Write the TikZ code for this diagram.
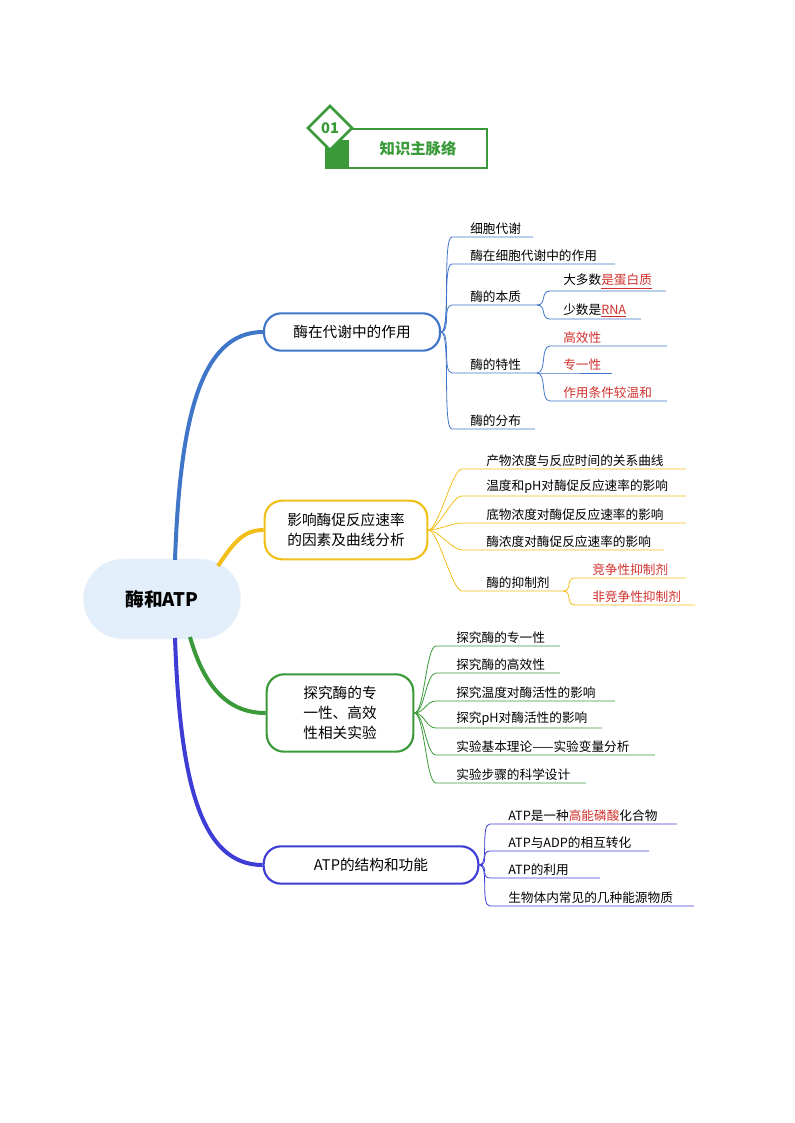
\documentclass[tikz,border=0pt]{standalone}
\usepackage{fontspec}
\setmainfont{Noto Sans CJK SC}
\usetikzlibrary{positioning}
\definecolor{hdgreen}{HTML}{3A9A3A}
\definecolor{bblue}{HTML}{3F76C8}
\definecolor{byellow}{HTML}{F2BE1A}
\definecolor{bgreen}{HTML}{3A9A3A}
\definecolor{bviolet}{HTML}{3D3DD6}
\definecolor{rootfill}{HTML}{E3EEFB}
\definecolor{redtxt}{HTML}{D0312D}
\tikzset{
  branch/.style={draw=#1, line width=1.6pt, rounded corners=13pt, fill=white, align=center, font=\fontsize{11}{15}\selectfont, inner sep=0pt},
  lf/.style={anchor=south west, inner sep=1.5pt, font=\fontsize{9.5}{11}\selectfont},
  link/.style={line width=0.6pt, #1}
}
% \leaf{name}{colour}{from}{line x}{text x}{line y}{end x}{text}
\newcommand{\leaf}[8]{%
  \coordinate (#1s) at (#4,#6);
  \coordinate (#1e) at (#7,#6);
  \draw[link=#2] (#3) .. controls +(10,0) and +(-10,0) .. (#1s) -- (#1e);
  \node[lf] (#1) at (#5,#6) {#8};
}
\newcommand{\rd}[1]{\textcolor{redtxt}{#1}}
\begin{document}
\begin{tikzpicture}[x=0.75pt,y=-0.75pt]
\useasboundingbox (0,0) rectangle (794,1123);
% header
\draw[hdgreen, line width=1.5pt] (326,129) rectangle (487,168);
\fill[hdgreen] (326,140) rectangle (349,168);
\node[font=\fontsize{11.5}{13}\selectfont\bfseries, text=hdgreen] (title) at (418,149) {知识主脉络};
\draw[hdgreen, line width=2pt, fill=white] (330,106) -- (352,128) -- (330,150) -- (308,128) -- cycle;
\node[font=\fontsize{11}{13}\selectfont\bfseries, text=hdgreen] (num) at (330,128) {01};
% root and branches
\node[fill=rootfill, draw=rootfill!60!white, rounded corners=30pt, minimum width=118pt, minimum height=60pt, font=\fontsize{14}{16}\selectfont\bfseries] (root) at (162,599) {酶和ATP};
\node[branch=bblue, minimum width=132pt, minimum height=28pt] (b1) at (352,332) {酶在代谢中的作用};
\node[branch=byellow, minimum width=122pt, minimum height=44pt] (b2) at (346,530) {影响酶促反应速率\\的因素及曲线分析};
\node[branch=bgreen, minimum width=110pt, minimum height=58pt] (b3) at (340,713) {探究酶的专\\一性、高效\\性相关实验};
\node[branch=bviolet, minimum width=161pt, minimum height=28pt] (b4) at (371,865) {ATP的结构和功能};
\draw[bblue, line width=3pt] (root.north west) ++(95,0) coordinate (r1)
  (175,560) .. controls (180,420) and (200,332) .. (b1.west);
\draw[byellow, line width=3pt] (218,566) .. controls (235,540) and (245,530) .. (b2.west);
\draw[bgreen, line width=3pt] (190,637) .. controls (205,690) and (230,713) .. (b3.west);
\draw[bviolet, line width=3pt] (175,638) .. controls (180,780) and (200,865) .. (b4.west);
% branch 1
\coordinate (p1) at (b1.east);
\leaf{a1}{bblue}{p1}{452}{468}{237}{533}{细胞代谢}
\leaf{a2}{bblue}{p1}{452}{468}{264}{615}{酶在细胞代谢中的作用}
\leaf{a3}{bblue}{p1}{452}{468}{305}{537}{酶的本质}
\leaf{a4}{bblue}{p1}{452}{468}{373}{537}{酶的特性}
\leaf{a5}{bblue}{p1}{452}{468}{429}{535}{酶的分布}
\leaf{a31}{bblue}{a3e}{550}{561}{291}{666}{大多数\rd{\underline{是蛋白质}}}
\leaf{a32}{bblue}{a3e}{550}{561}{319}{641}{少数是\rd{\underline{RNA}}}
\leaf{a41}{bblue}{a4e}{550}{561}{346}{667}{\rd{高效性}}
\leaf{a42}{bblue}{a4e}{550}{561}{373}{612}{\rd{专一性}}
\leaf{a43}{bblue}{a4e}{550}{561}{401}{667}{\rd{作用条件较温和}}
% branch 2
\coordinate (p2) at (b2.east);
\leaf{c1}{byellow}{p2}{462}{484}{469}{686}{产物浓度与反应时间的关系曲线}
\leaf{c2}{byellow}{p2}{462}{484}{496}{686}{温度和pH对酶促反应速率的影响}
\leaf{c3}{byellow}{p2}{462}{484}{523}{686}{底物浓度对酶促反应速率的影响}
\leaf{c4}{byellow}{p2}{462}{484}{550}{664}{酶浓度对酶促反应速率的影响}
\leaf{c5}{byellow}{p2}{462}{484}{591}{563}{酶的抑制剂}
\leaf{c51}{byellow}{c5e}{575}{590}{578}{686}{\rd{竞争性抑制剂}}
\leaf{c52}{byellow}{c5e}{575}{590}{605}{695}{\rd{非竞争性抑制剂}}
% branch 3
\coordinate (p3) at (b3.east);
\leaf{d1}{bgreen}{p3}{436}{454}{646}{560}{探究酶的专一性}
\leaf{d2}{bgreen}{p3}{436}{454}{673}{560}{探究酶的高效性}
\leaf{d3}{bgreen}{p3}{436}{454}{701}{615}{探究温度对酶活性的影响}
\leaf{d4}{bgreen}{p3}{436}{454}{728}{602}{探究pH对酶活性的影响}
\leaf{d5}{bgreen}{p3}{436}{454}{755}{655}{实验基本理论——实验变量分析}
\leaf{d6}{bgreen}{p3}{436}{454}{783}{586}{实验步骤的科学设计}
% branch 4
\coordinate (p4) at (b4.east);
\leaf{e1}{bviolet}{p4}{490}{506}{824}{677}{ATP是一种\rd{高能磷酸}化合物}
\leaf{e2}{bviolet}{p4}{490}{506}{851}{649}{ATP与ADP的相互转化}
\leaf{e3}{bviolet}{p4}{490}{506}{878}{600}{ATP的利用}
\leaf{e4}{bviolet}{p4}{490}{506}{906}{694}{生物体内常见的几种能源物质}
\end{tikzpicture}
\end{document}
